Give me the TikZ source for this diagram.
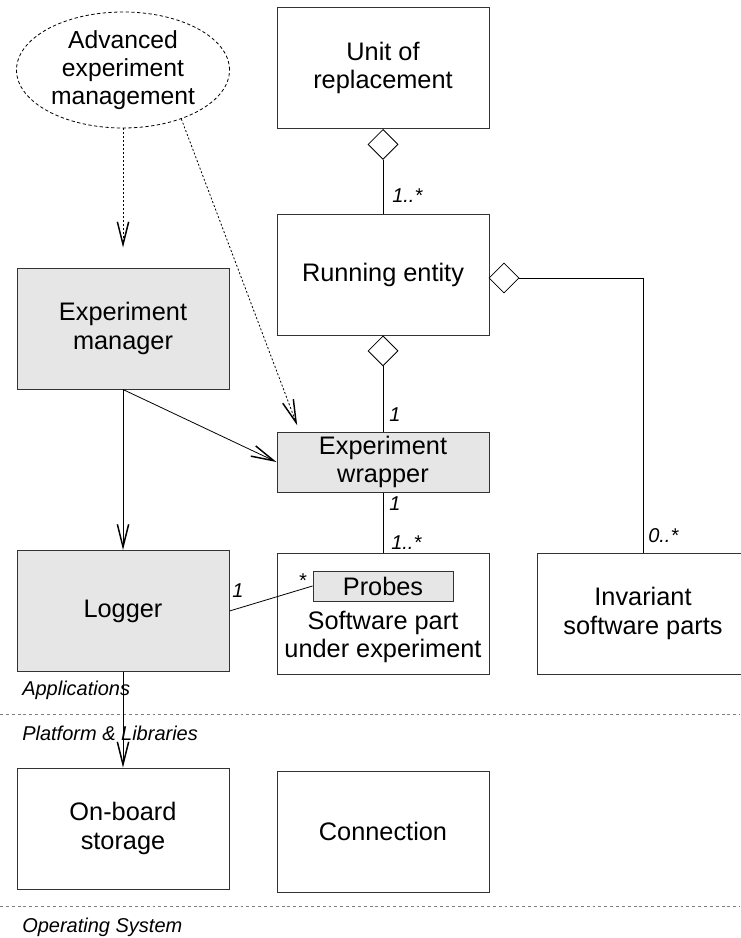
\documentclass[tikz,border=0pt]{standalone}
\usepackage{fontspec}
\setmainfont{Liberation Sans}
\usetikzlibrary{arrows.meta,shapes.geometric}
\definecolor{boxgray}{HTML}{E6E6E6}
\definecolor{linegray}{HTML}{333333}
\begin{document}
\begin{tikzpicture}[x=0.75pt,y=-0.75pt,
  box/.style={draw=linegray, line width=0.75pt, inner sep=0pt, minimum width=159pt, minimum height=90.75pt, align=center, font=\fontsize{19}{21.5}\selectfont},
  grey/.style={fill=boxgray},
  agg/.style={draw=black, diamond, aspect=1, inner sep=0pt, minimum size=22.5pt, fill=white, line width=0.6pt},
  lab/.style={font=\fontsize{15}{17}\selectfont\itshape, inner sep=0pt, anchor=west},
  layer/.style={draw=gray, line width=0.75pt, dash pattern=on 2.2pt off 2.2pt},
  conn/.style={draw=black, line width=0.6pt},
  open/.style={-{Straight Barb[length=17pt,width=8.5pt,line width=1.1pt]}},
  dots/.style={dash pattern=on 1.5pt off 1.5pt},
  elldash/.style={dash pattern=on 2.5pt off 1.8pt}
]
\useasboundingbox (0,0) rectangle (740,938);

% layer separators
\coordinate (l1a) at (0,714);
\coordinate (l1b) at (740,714);
\coordinate (l2a) at (0,906);
\coordinate (l2b) at (740,906);
\draw[layer] (l1a) -- (l1b);
\draw[layer] (l2a) -- (l2b);
\node[lab] (app) at (22,690) {Applications};
\node[lab] (plat) at (22,733) {Platform \& Libraries};
\node[lab] (os) at (22,927) {Operating System};

% ellipse
\node[ellipse, draw=black, line width=0.6pt, elldash, inner sep=0pt, minimum width=159.75pt, minimum height=87pt] (ell) at (123,70) {};
\node[align=center, font=\fontsize{18.5}{21}\selectfont, inner sep=0pt] (elltext) at (123,70) {Advanced\\experiment\\management};

% boxes
\node[box] (unit) at (383,68) {Unit of\\replacement};
\node[box] (run) at (383,274.5) {Running entity};
\node[box, grey] (mgr) at (123,328.5) {Experiment\\manager};
\node[box, grey, minimum height=45pt] (wrap) at (383,462) {Experiment\\wrapper};
\node[box, grey] (log) at (123,611) {Logger};
\node[box] (sw) at (383,613.5) {};
\node[box, grey, minimum width=105pt, minimum height=22.5pt] (probes) at (383,586) {Probes};
\node[align=center, font=\fontsize{19}{21.5}\selectfont, inner sep=0pt] (swtext) at (383,637) {Software part\\under experiment};
\node[box] (inv) at (643,613.5) {Invariant\\software parts};
\node[box] (stor) at (123,828.5) {On-board\\storage};
\node[box] (con) at (383,831.5) {Connection};

% aggregation diamonds
\node[agg, anchor=north] (d1) at (unit.south) {};
\node[agg, anchor=north] (d3) at (run.south) {};
\node[agg] (d2) at (504,278) {};

\draw[conn] (d1.south) -- (run.north);
\draw[conn] (d3.south) -- (wrap.north);
\draw[conn] (d2.east) -| (inv.north);
\draw[conn] (wrap.south) -- (sw.north);
\draw[conn] (log.east) -- (probes.west);

% arrows
\draw[conn, open] (mgr.south) -- (log.north);
\draw[conn, open] (mgr.south) -- (wrap.west);
\draw[conn, open] (log.south) -- (stor.north);
\draw[conn, dots, open, shorten >=15pt] (ell.south) -- (mgr.north);
\draw[conn, dots, open, shorten >=5pt] (ell.-40) -- ([xshift=17.25pt]wrap.north west);

% multiplicities
\node[lab] (m1) at (392,196) {1..*};
\node[lab] (m2) at (389,415) {1};
\node[lab] (m3) at (389,504) {1};
\node[lab] (m4) at (391,543) {1..*};
\node[lab] (m5) at (648,536) {0..*};
\node[lab] (m6) at (232,591) {1};
\node[lab] (m7) at (298,581) {*};
\end{tikzpicture}
\end{document}
